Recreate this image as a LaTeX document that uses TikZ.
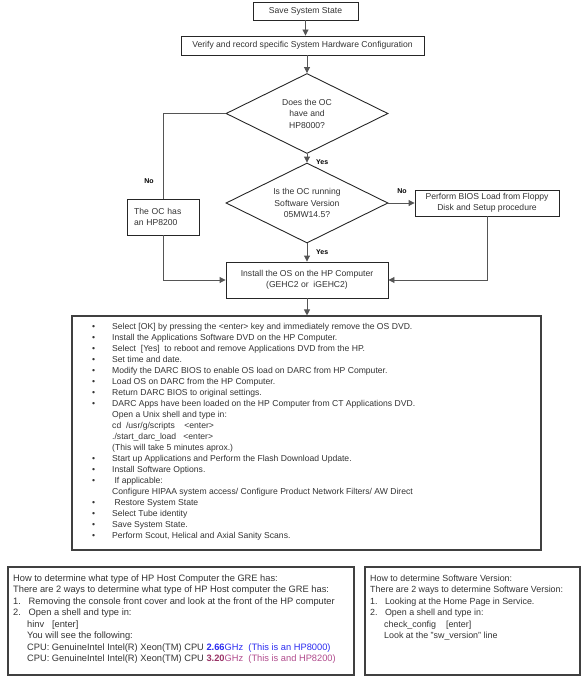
\documentclass[tikz,border=0pt]{standalone}
\usepackage{fontspec}
\setmainfont{Liberation Sans}
\usetikzlibrary{shapes.geometric,arrows.meta}
\definecolor{lncol}{HTML}{555555}
\definecolor{txt}{HTML}{333333}
\definecolor{cpublue}{HTML}{2B2BF0}
\definecolor{cpupurple}{HTML}{993366}
\definecolor{cpupink}{HTML}{B04A8C}
\newcommand\fsmain{\fontsize{8.6}{11}\selectfont}
\newcommand\fsdia{\fontsize{8.6}{11.5}\selectfont}
\newcommand\fslab{\fontsize{7}{8}\selectfont}
\newcommand\fsbot{\fontsize{9.3}{11.5}\selectfont}
\newcommand\fsbotr{\fontsize{8.9}{11.5}\selectfont}
\newcommand\bul{\llap{\textbullet\hspace{17pt}}}
\begin{document}
\begin{tikzpicture}[x=1pt,y=-1pt,
  box/.style={draw=black!85, line width=0.9pt, rectangle, inner sep=0pt, align=center, font=\fsmain, text=txt},
  dec/.style={draw=black!85, line width=0.9pt, diamond, aspect=2, inner sep=0pt, align=center, font=\fsdia, text=txt, minimum width=162pt, minimum height=80pt},
  conn/.style={draw=lncol, line width=0.9pt},
  arr/.style={conn, -{Triangle[length=6pt,width=6pt]}},
  lbl/.style={font=\fslab\bfseries, text=black, inner sep=0pt},
  txl/.style={anchor=base west, inner sep=0pt, font=\fsmain, text=txt},
  txb/.style={anchor=base west, inner sep=0pt, font=\fsbot, text=txt},
  txr/.style={anchor=base west, inner sep=0pt, font=\fsbotr, text=txt},
  bigbox/.style={draw=black!75, line width=1.1pt, rectangle, inner sep=0pt},
]
\useasboundingbox (0,0) rectangle (587,677);

% flowchart nodes
\node[box, minimum width=105pt, minimum height=18pt] (save) at (305.5,11) {Save System State};
\node[box, minimum width=243pt, minimum height=19pt] (verify) at (302.5,45.5) {Verify and record specific System Hardware Configuration};
\node[dec] (d1) at (307,113.5) {Does the OC\\have and\\HP8000?};
\node[dec] (d2) at (307,203) {Is the OC running\\Software Version\\05MW14.5?};
\node[box, minimum width=72pt, minimum height=36pt, text width=58pt, align=left, font=\fsdia] (hp) at (163,217) {The OC has\\an HP8200};
\node[box, minimum width=144pt, minimum height=26pt] (floppy) at (487,203) {Perform BIOS Load from Floppy\\Disk and Setup procedure};
\node[box, minimum width=162pt, minimum height=36pt] (install) at (307,280) {Install the OS on the HP Computer\\(GEHC2 or\ \ iGEHC2)};
\node[bigbox, minimum width=469pt, minimum height=234pt] (big) at (306.5,433) {};

% connectors
\draw[arr] (save.south) -- (save.south |- verify.north);
\draw[arr] (d1.north |- verify.south) -- (d1.north);
\draw[arr] (d1.south) -- (d2.north);
\draw[conn] (d1.west) -| (hp.north);
\draw[arr] (d2.east) -- (floppy.west);
\draw[arr] (d2.south) -- (install.north);
\draw[arr] (hp.south) |- (install.west);
\draw[arr] (floppy.south) |- (install.east);
\draw[arr] (install.south) -- (install.south |- big.north);

% labels
\node[lbl, anchor=west] (yes1) at (316,162.5) {Yes};
\node[lbl, anchor=west] (yes2) at (316,252.5) {Yes};
\node[lbl] (no1) at (149,181) {No};
\node[lbl] (no2) at (402,191) {No};

% bullet list
\node[txl] (l1) at (112,329) {\bul Select [OK] by pressing the <enter> key and immediately remove the OS DVD.};
\node[txl] (l2) at (112,340) {\bul Install the Applications Software DVD on the HP Computer.};
\node[txl] (l3) at (112,351) {\bul Select\ \ [Yes]\ \ to reboot and remove Applications DVD from the HP.};
\node[txl] (l4) at (112,362) {\bul Set time and date.};
\node[txl] (l5) at (112,373) {\bul Modify the DARC BIOS to enable OS load on DARC from HP Computer.};
\node[txl] (l6) at (112,384) {\bul Load OS on DARC from the HP Computer.};
\node[txl] (l7) at (112,395) {\bul Return DARC BIOS to original settings.};
\node[txl] (l8) at (112,406) {\bul DARC Apps have been loaded on the HP Computer from CT Applications DVD.};
\node[txl] (l9) at (112,417) {Open a Unix shell and type in:};
\node[txl] (l10) at (112,428) {cd\ \ /usr/g/scripts\ \ \ \ <enter>};
\node[txl] (l11) at (112,439) {./start\_darc\_load\ \ \ <enter>};
\node[txl] (l12) at (112,450) {(This will take 5 minutes aprox.)};
\node[txl] (l13) at (112,461) {\bul Start up Applications and Perform the Flash Download Update.};
\node[txl] (l14) at (112,472) {\bul Install Software Options.};
\node[txl] (l15) at (112,483) {\bul \ If applicable:};
\node[txl] (l16) at (112,494) {Configure HIPAA system access/ Configure Product Network Filters/ AW Direct};
\node[txl] (l17) at (112,505) {\bul \ Restore System State};
\node[txl] (l18) at (112,516) {\bul Select Tube identity};
\node[txl] (l19) at (112,527) {\bul Save System State.};
\node[txl] (l20) at (112,538) {\bul Perform Scout, Helical and Axial Sanity Scans.};

% bottom boxes
\node[bigbox, minimum width=346pt, minimum height=108pt] (hostbox) at (181,621) {};
\node[bigbox, minimum width=215pt, minimum height=108pt] (swbox) at (472.5,621) {};

\node[txb] (h1) at (13,581) {How to determine what type of HP Host Computer the GRE has:};
\node[txb] (h2) at (13,592.5) {There are 2 ways to determine what type of HP Host computer the GRE has:};
\node[txb] (h3) at (13,604) {1.\ \ \ Removing the console front cover and look at the front of the HP computer};
\node[txb] (h4) at (13,615.5) {2.\ \ \ Open a shell and type in:};
\node[txb] (h5) at (27,627) {hinv\ \ \ [enter]};
\node[txb] (h6) at (27,638.5) {You will see the following:};
\node[txb] (h7) at (27,650) {CPU: GenuineIntel Intel(R) Xeon(TM) CPU \textcolor{cpublue}{\textbf{2.66}GHz\ \ (This is an HP8000)}};
\node[txb] (h8) at (27,661.5) {CPU: GenuineIntel Intel(R) Xeon(TM) CPU \textcolor{cpupurple}{\textbf{3.20}}\textcolor{cpupink}{GHz\ \ (This is and HP8200)}};

\node[txr] (s1) at (370,581) {How to determine Software Version:};
\node[txr] (s2) at (370,592.5) {There are 2 ways to determine Software Version:};
\node[txr] (s3) at (370,604) {1.\ \ \ Looking at the Home Page in Service.};
\node[txr] (s4) at (370,615.5) {2.\ \ \ Open a shell and type in:};
\node[txr] (s5) at (384,627) {check\_config\ \ \ \ [enter]};
\node[txr] (s6) at (384,638.5) {Look at the "sw\_version" line};
\end{tikzpicture}
\end{document}
